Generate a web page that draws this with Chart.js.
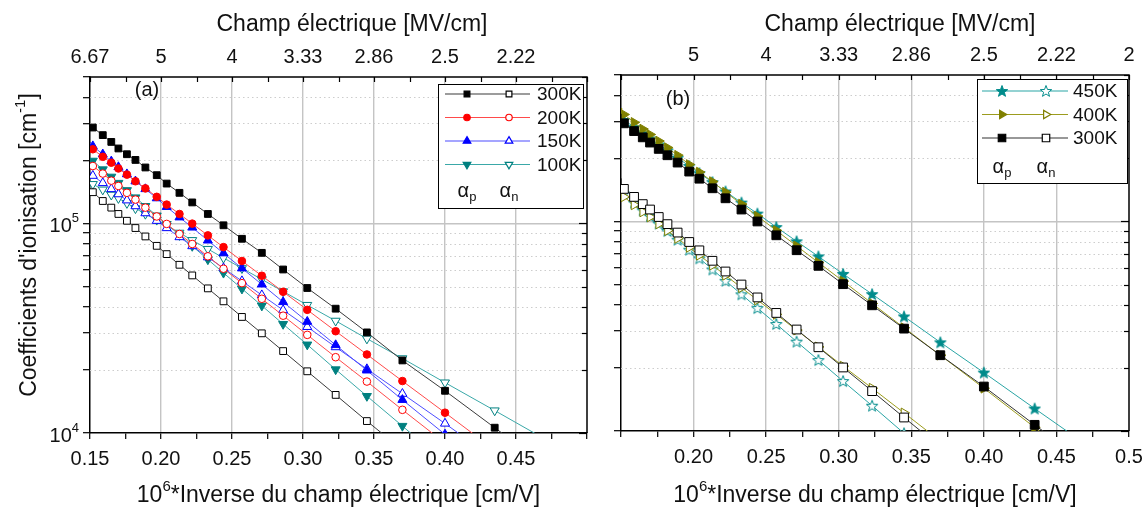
<!DOCTYPE html>
<html>
<head>
<meta charset="utf-8">
<script src="https://cdn.jsdelivr.net/npm/chart.js@4.4.1/dist/chart.umd.min.js"></script>
<style>
  html, body { margin: 0; padding: 0; background: #fff; overflow: hidden; }
  #wrap { position: relative; width: 1142px; height: 510px; overflow: hidden; }
  canvas { position: absolute; top: 0; }
  #chartA { left: 0; }
  #chartB { left: 600px; }
</style>
</head>
<body>
<div id="wrap">
  <canvas id="chartA" width="600" height="510"></canvas>
  <canvas id="chartB" width="560" height="510"></canvas>
</div>
<script>
var FONT = "'Liberation Sans', Arial, sans-serif";
var INK = "#111";

// 10^6 / E  (cm/V), common grid of the computed points
var invField = [0.147, 0.152, 0.159, 0.165, 0.170, 0.176, 0.182, 0.189, 0.197, 0.204, 0.213, 0.222, 0.233,
                0.244, 0.257, 0.271, 0.286, 0.303, 0.323, 0.345, 0.370, 0.400, 0.435, 0.476, 0.526];

var xTicks = [0.15, 0.175, 0.2, 0.225, 0.25, 0.275, 0.3, 0.325, 0.35, 0.375, 0.4, 0.425, 0.45, 0.475, 0.5];
var bottomLabelsA = ["0.15", "", "0.20", "", "0.25", "", "0.30", "", "0.35", "", "0.40", "", "0.45", "", ""];
var bottomLabelsB = ["", "", "0.20", "", "0.25", "", "0.30", "", "0.35", "", "0.40", "", "0.45", "", "0.5"];
var topLabelsA = ["6.67", "", "5", "", "4", "", "3.33", "", "2.86", "", "2.5", "", "2.22", "", ""];
var topLabelsB = ["", "", "5", "", "4", "", "3.33", "", "2.86", "", "2.5", "", "2.22", "", "2"];
var yTicks = [1e4, 2e4, 3e4, 4e4, 5e4, 6e4, 7e4, 8e4, 9e4, 1e5, 2e5, 3e5, 4e5, 5e5];

// (a) ionisation coefficients, cm^-1
var p300a = [3.05e5, 2.87e5, 2.64e5, 2.45e5, 2.28e5, 2.14e5, 2.01e5, 1.85e5, 1.70e5, 1.55e5, 1.40e5, 1.26e5, 1.11e5,
             9.8e4, 8.45e4, 7.24e4, 6.03e4, 4.92e4, 3.92e4, 3.02e4, 2.22e4, 1.59e4, 1.06e4, 6.6e3, null];
var n300a = [1.50e5, 1.41e5, 1.28e5, 1.19e5, 1.11e5, 1.03e5, 9.51e4, 8.67e4, 7.82e4, 7.14e4, 6.35e4, 5.65e4, 4.90e4,
             4.25e4, 3.58e4, 2.99e4, 2.46e4, 1.97e4, 1.52e4, 1.14e4, 8.3e3, null, null, null, null];
var p200a = [2.40e5, 2.26e5, 2.08e5, 1.95e5, 1.83e5, 1.71e5, 1.59e5, 1.47e5, 1.34e5, 1.23e5, 1.11e5, 9.98e4, 8.77e4,
             7.71e4, 6.62e4, 5.63e4, 4.72e4, 3.87e4, 3.06e4, 2.37e4, 1.77e4, 1.25e4, 8.3e3, null, null];
var n200a = [2.00e5, 1.88e5, 1.73e5, 1.60e5, 1.51e5, 1.40e5, 1.30e5, 1.19e5, 1.08e5, 9.95e4, 8.91e4, 7.98e4, 6.97e4,
             6.08e4, 5.19e4, 4.37e4, 3.63e4, 2.94e4, 2.30e4, 1.76e4, 1.29e4, 8.95e3, null, null, null];
var p150a = [2.49e5, 2.34e5, 2.14e5, 1.98e5, 1.86e5, 1.72e5, 1.59e5, 1.46e5, 1.32e5, 1.20e5, 1.07e5, 9.57e4, 8.30e4,
             7.21e4, 6.11e4, 5.12e4, 4.22e4, 3.40e4, 2.63e4, 1.99e4, 1.44e4, 9.85e3, 6.3e3, null, null];
var n150a = [1.78e5, 1.69e5, 1.56e5, 1.46e5, 1.38e5, 1.29e5, 1.21e5, 1.12e5, 1.03e5, 9.51e4, 8.61e4, 7.80e4, 6.90e4,
             6.12e4, 5.31e4, 4.55e4, 3.86e4, 3.21e4, 2.57e4, 2.02e4, 1.54e4, 1.11e4, 7.5e3, null, null];
var p100a = [2.13e5, 1.99e5, 1.81e5, 1.67e5, 1.56e5, 1.44e5, 1.33e5, 1.21e5, 1.09e5, 9.93e4, 8.79e4, 7.80e4, 6.73e4,
             5.81e4, 4.88e4, 4.05e4, 3.31e4, 2.64e4, 2.01e4, 1.50e4, 1.08e4, 7.2e3, null, null, null];
var n100a = [1.61e5, 1.54e5, 1.45e5, 1.37e5, 1.32e5, 1.25e5, 1.18e5, 1.11e5, 1.04e5, 9.75e4, 9.02e4, 8.32e4, 7.55e4,
             6.85e4, 6.11e4, 5.41e4, 4.74e4, 4.08e4, 3.43e4, 2.82e4, 2.27e4, 1.74e4, 1.28e4, 8.9e3, null];

// (b)
var p450b = [3.22e5, 3.05e5, 2.82e5, 2.64e5, 2.49e5, 2.33e5, 2.18e5, 2.01e5, 1.84e5, 1.70e5, 1.54e5, 1.39e5, 1.23e5,
             1.09e5, 9.40e4, 8.04e4, 6.81e4, 5.62e4, 4.50e4, 3.52e4, 2.65e4, 1.90e4, 1.28e4, 8.1e3, null];
var n450b = [1.45e5, 1.36e5, 1.23e5, 1.13e5, 1.06e5, 9.77e4, 9.00e4, 8.18e4, 7.33e4, 6.67e4, 5.90e4, 5.21e4, 4.49e4,
             3.86e4, 3.24e4, 2.67e4, 2.18e4, 1.73e4, 1.32e4, 9.75e3, null, null, null, null, null];
var p400b = [3.44e5, 3.24e5, 2.97e5, 2.76e5, 2.60e5, 2.42e5, 2.25e5, 2.07e5, 1.87e5, 1.72e5, 1.55e5, 1.38e5, 1.21e5,
             1.06e5, 9.06e4, 7.64e4, 6.37e4, 5.19e4, 4.06e4, 3.11e4, 2.30e4, 1.60e4, 1.04e4, 6.3e3, null];
var n400b = [1.39e5, 1.31e5, 1.20e5, 1.11e5, 1.05e5, 9.73e4, 9.04e4, 8.30e4, 7.52e4, 6.90e4, 6.18e4, 5.53e4, 4.83e4,
             4.22e4, 3.60e4, 3.03e4, 2.52e4, 2.04e4, 1.60e4, 1.22e4, 8.95e3, null, null, null, null];
var p300b = [3.11e5, 2.94e5, 2.70e5, 2.52e5, 2.38e5, 2.22e5, 2.07e5, 1.91e5, 1.73e5, 1.60e5, 1.44e5, 1.29e5, 1.14e5,
             1.00e5, 8.59e4, 7.29e4, 6.14e4, 5.02e4, 3.98e4, 3.08e4, 2.30e4, 1.63e4, 1.07e4, 6.6e3, null];
var n300b = [1.53e5, 1.43e5, 1.31e5, 1.21e5, 1.14e5, 1.05e5, 9.71e4, 8.85e4, 7.98e4, 7.28e4, 6.49e4, 5.77e4, 5.00e4,
             4.34e4, 3.66e4, 3.05e4, 2.51e4, 2.01e4, 1.55e4, 1.16e4, 8.4e3, null, null, null, null];

function pts(vals) {
  var out = [];
  for (var i = 0; i < invField.length; i++) {
    if (vals[i] != null) out.push({ x: invField[i], y: vals[i] });
  }
  return out;
}

function starMark(fill, stroke) {
  var c = document.createElement("canvas");
  c.width = 14; c.height = 14;
  var g = c.getContext("2d");
  g.beginPath();
  for (var k = 0; k < 10; k++) {
    var r = k % 2 ? 2.5 : 6;
    var ang = -Math.PI / 2 + k * Math.PI / 5;
    g.lineTo(7 + r * Math.cos(ang), 7.5 + r * Math.sin(ang));
  }
  g.closePath();
  g.fillStyle = fill; g.fill();
  g.strokeStyle = stroke; g.lineWidth = 1; g.stroke();
  return c;
}

// marker kinds: color of mark, color of line, point style
var mk = {
  k300a: { mark: "#000", line: "#3a3a3a", style: "rect", r: 4.8, rot: 0 },
  r200a: { mark: "#ff0000", line: "#ff4a4a", style: "circle", r: 3.8, rot: 0 },
  b150a: { mark: "#0000ff", line: "#4d4dff", style: "triangle", r: 5.2, rot: 0 },
  t100a: { mark: "#008080", line: "#3aa8a8", style: "triangle", r: 5.2, rot: 180 },
  t450b: { mark: "#008b8b", line: "#2aa5a5", style: "star", r: 6, rot: 0 },
  o400b: { mark: "#808000", line: "#9c9c1e", style: "triangle", r: 5.6, rot: 90 },
  k300b: { mark: "#000", line: "#333", style: "rect", r: 6.2, rot: 0 }
};
var starFull = starMark("#008b8b", "#008b8b");
var starOpen = starMark("#fff", "#008b8b");

function styleOf(m, filled) {
  if (m.style === "star") return filled ? starFull : starOpen;
  return m.style;
}

function series(label, vals, m, filled) {
  return {
    label: label, data: pts(vals),
    borderColor: m.line, borderWidth: 1, tension: 0, fill: false,
    pointStyle: styleOf(m, filled), pointRadius: m.r, pointHoverRadius: m.r, pointRotation: m.rot,
    pointBorderColor: m.mark, pointBackgroundColor: filled ? m.mark : "#fff", pointBorderWidth: 1
  };
}

function drawRich(ctx, parts, x, y, size, align) {
  var w = 0;
  parts.forEach(function (q) {
    ctx.font = (q.s ? Math.round(size * 0.66) : size) + "px " + FONT;
    q.w = ctx.measureText(q.t).width;
    w += q.w;
  });
  var cx = align === "center" ? x - w / 2 : (align === "right" ? x - w : x);
  ctx.textAlign = "left";
  ctx.textBaseline = "middle";
  parts.forEach(function (q) {
    ctx.font = (q.s ? Math.round(size * 0.66) : size) + "px " + FONT;
    var dy = q.s === "sup" ? -size * 0.38 : (q.s === "sub" ? size * 0.32 : 0);
    ctx.fillText(q.t, cx, y + dy);
    cx += q.w;
  });
}

function drawMark(ctx, m, filled, x, y) {
  ctx.fillStyle = filled ? m.mark : "#fff";
  ctx.strokeStyle = m.mark;
  Chart.helpers.drawPoint(ctx, { pointStyle: styleOf(m, filled), rotation: m.rot, radius: m.r * 0.85, borderWidth: 1 }, x, y);
}

function drawLegend(ctx, L) {
  ctx.fillStyle = "#fff";
  ctx.fillRect(L.x, L.y, L.w, L.h);
  ctx.strokeStyle = "#000";
  ctx.lineWidth = 1;
  ctx.strokeRect(L.x + 0.5, L.y + 0.5, L.w, L.h);
  L.rows.forEach(function (r, i) {
    var y = L.row0 + i * L.dy;
    ctx.strokeStyle = r.m.line;
    ctx.lineWidth = 1.2;
    ctx.beginPath(); ctx.moveTo(L.lx0, y); ctx.lineTo(L.lx1, y); ctx.stroke();
    drawMark(ctx, r.m, true, L.mx0, y);
    drawMark(ctx, r.m, false, L.mx1, y);
    ctx.fillStyle = INK;
    drawRich(ctx, [{ t: r.label }], L.tx, y + 1, 19, "left");
  });
  ctx.fillStyle = INK;
  drawRich(ctx, [{ t: "\u03b1" }, { t: "p", s: "sub" }], L.mx0, L.alphaY, 20, "center");
  drawRich(ctx, [{ t: "\u03b1" }, { t: "n", s: "sub" }], L.mx1, L.alphaY, 20, "center");
}

function decoPlugin(p) {
  return {
    id: "deco",
    beforeDatasetsDraw: function (chart) {
      var ctx = chart.ctx, a = chart.chartArea, ys = chart.scales.y;
      ctx.save();
      ctx.strokeStyle = "#cdcdcd";
      ctx.lineWidth = 1;
      ctx.setLineDash([1.5, 3]);
      yTicks.forEach(function (v) {
        if (v === 1e4 || v === 1e5 || v === 5e5) return;
        var y = Math.round(ys.getPixelForValue(v)) + 0.5;
        ctx.beginPath(); ctx.moveTo(a.left, y); ctx.lineTo(a.right, y); ctx.stroke();
      });
      ctx.restore();
    },
    afterDraw: function (chart) {
      var ctx = chart.ctx, a = chart.chartArea, xs = chart.scales.x, ys = chart.scales.y;
      ctx.save();
      ctx.strokeStyle = "#000";
      ctx.lineWidth = 1.5;
      ctx.beginPath();
      ctx.moveTo(a.left, a.top); ctx.lineTo(a.right, a.top); ctx.lineTo(a.right, a.bottom);
      ctx.stroke();
      ctx.lineWidth = 1.2;
      xTicks.forEach(function (v) {
        var x = Math.round(xs.getPixelForValue(v)) + 0.5;
        ctx.beginPath(); ctx.moveTo(x, a.top); ctx.lineTo(x, a.top + 5); ctx.stroke();
      });
      yTicks.forEach(function (v) {
        var y = Math.round(ys.getPixelForValue(v)) + 0.5, len = (v === 1e4 || v === 1e5) ? 8 : 5;
        ctx.beginPath(); ctx.moveTo(a.right, y); ctx.lineTo(a.right - len, y); ctx.stroke();
      });

      ctx.fillStyle = INK;
      ctx.font = "20px " + FONT;
      ctx.textAlign = "center";
      ctx.textBaseline = "middle";
      xTicks.forEach(function (v, i) {
        if (p.topLabels[i]) ctx.fillText(p.topLabels[i], xs.getPixelForValue(v), a.top - 20);
      });
      drawRich(ctx, [{ t: "Champ \u00e9lectrique [MV/cm]" }], p.topTitleX, 25, 23, "center");
      drawRich(ctx, [{ t: "10" }, { t: "6", s: "sup" }, { t: "*Inverse du champ \u00e9lectrique [cm/V]" }],
        (a.left + a.right) / 2, 496, 23, "center");

      if (p.yLabels) {
        [1e4, 1e5].forEach(function (v) {
          var y = ys.getPixelForValue(v);
          drawRich(ctx, [{ t: "10" }, { t: String(Math.log10(v)), s: "sup" }], a.left - 11, y + 3, 20, "right");
        });
        ctx.save();
        ctx.translate(30, 245);
        ctx.rotate(-Math.PI / 2);
        drawRich(ctx, [{ t: "Coefficients d'ionisation [cm" }, { t: "-1", s: "sup" }, { t: "]" }], 0, 0, 23, "center");
        ctx.restore();
      }

      ctx.fillStyle = INK;
      drawRich(ctx, [{ t: p.tag }], p.tagX, p.tagY, 20, "center");
      drawLegend(ctx, p.legend);
      ctx.restore();
    }
  };
}

function makeChart(id, p, datasets) {
  return new Chart(document.getElementById(id), {
    type: "line",
    data: { datasets: datasets },
    options: {
      responsive: false,
      animation: false,
      events: [],
      layout: { padding: p.pad },
      plugins: { legend: { display: false }, tooltip: { enabled: false } },
      scales: {
        x: {
          type: "linear", min: 0.15, max: 0.5,
          afterBuildTicks: function (s) { s.ticks = xTicks.map(function (v) { return { value: v }; }); },
          afterFit: function (s) { s.height = p.bottomH; },
          ticks: {
            autoSkip: false, maxRotation: 0, padding: 8, color: INK,
            font: { family: FONT, size: 20 },
            callback: function (v, i) { return p.bottomLabels[i]; }
          },
          grid: {
            color: function (c) {
              var i = c.index;
              return (i % 2 === 0 && i > 0 && i < xTicks.length - 1) ? "#c4c4c4" : "rgba(0,0,0,0)";
            },
            lineWidth: 1.4, tickColor: "#000", tickWidth: 1.2, tickLength: 6
          },
          border: { color: "#000", width: 1.5 }
        },
        y: {
          type: "logarithmic", min: 1e4, max: 5e5,
          afterBuildTicks: function (s) { s.ticks = yTicks.map(function (v) { return { value: v }; }); },
          afterFit: function (s) { s.width = p.leftW; },
          ticks: { callback: function () { return ""; }, font: { family: FONT, size: 20 } },
          grid: {
            color: function (c) { return c.tick && c.tick.value === 1e5 ? "#c4c4c4" : "rgba(0,0,0,0)"; },
            lineWidth: 1.4, tickColor: "#000", tickWidth: 1.2, tickLength: 7
          },
          border: { color: "#000", width: 1.5 }
        }
      }
    },
    plugins: [decoPlugin(p)]
  });
}

var panelA = {
  pad: { top: 77, right: 13, left: 0, bottom: 0 }, bottomH: 77, leftW: 90,
  bottomLabels: bottomLabelsA, topLabels: topLabelsA, topTitleX: 352, yLabels: true,
  tag: "(a)", tagX: 147, tagY: 90,
  legend: {
    x: 438, y: 84, w: 145, h: 124, row0: 94, dy: 23.5, lx0: 445, lx1: 530, mx0: 467, mx1: 509, tx: 537, alphaY: 191,
    rows: [
      { m: mk.k300a, label: "300K" }, { m: mk.r200a, label: "200K" },
      { m: mk.b150a, label: "150K" }, { m: mk.t100a, label: "100K" }
    ]
  }
};

var panelB = {
  pad: { top: 75, right: 31, left: 0, bottom: 0 }, bottomH: 79, leftW: 21,
  bottomLabels: bottomLabelsB, topLabels: topLabelsB, topTitleX: 300, yLabels: false,
  tag: "(b)", tagX: 78, tagY: 99,
  legend: {
    x: 377, y: 79, w: 150, h: 104, row0: 91, dy: 23.5, lx0: 382, lx1: 468, mx0: 402, mx1: 446, tx: 473, alphaY: 167,
    rows: [
      { m: mk.t450b, label: "450K" }, { m: mk.o400b, label: "400K" }, { m: mk.k300b, label: "300K" }
    ]
  }
};

makeChart("chartA", panelA, [
  series("300K \u03b1p", p300a, mk.k300a, true),
  series("300K \u03b1n", n300a, mk.k300a, false),
  series("200K \u03b1p", p200a, mk.r200a, true),
  series("200K \u03b1n", n200a, mk.r200a, false),
  series("150K \u03b1p", p150a, mk.b150a, true),
  series("150K \u03b1n", n150a, mk.b150a, false),
  series("100K \u03b1p", p100a, mk.t100a, true),
  series("100K \u03b1n", n100a, mk.t100a, false)
]);

makeChart("chartB", panelB, [
  series("300K \u03b1p", p300b, mk.k300b, true),
  series("300K \u03b1n", n300b, mk.k300b, false),
  series("400K \u03b1p", p400b, mk.o400b, true),
  series("400K \u03b1n", n400b, mk.o400b, false),
  series("450K \u03b1p", p450b, mk.t450b, true),
  series("450K \u03b1n", n450b, mk.t450b, false)
]);
</script>
</body>
</html>
